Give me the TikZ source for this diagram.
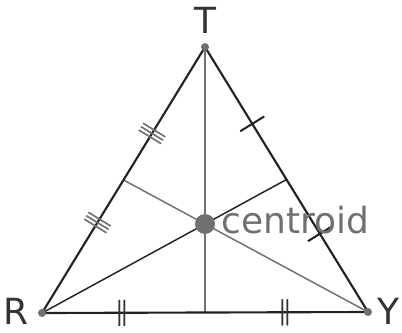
\documentclass[tikz,border=0pt]{standalone}
\usepackage{fontspec}
\setmainfont{DejaVu Sans}
\usetikzlibrary{calc,decorations.markings}

\definecolor{inkdark}{HTML}{222222}
\definecolor{inkgray}{HTML}{707070}
\definecolor{labelgray}{HTML}{333333}

\tikzset{
  side/.style={line width=1.6pt, draw=inkdark},
  median/.style={line width=1.1pt},
  vertexdot/.style={circle, fill=inkgray, inner sep=0pt, minimum size=6pt},
  vlabel/.style={font=\fontsize{27}{30}\selectfont, text=labelgray},
  onetick/.style={postaction={decorate}, decoration={markings,
      mark=at position #1 with {\draw[line width=1.3pt, inkdark] (0,-14) -- (0,14);}}},
  twotick/.style={postaction={decorate}, decoration={markings,
      mark=at position #1 with {\draw[line width=1.1pt, labelgray]
        (-2.5,-13) -- (-2.5,13) (2.5,-13) -- (2.5,13);}}},
  threetick/.style={postaction={decorate}, decoration={markings,
      mark=at position #1 with {\draw[line width=1pt, inkgray]
        (-4,-13) -- (-4,13) (0,-13) -- (0,13) (4,-13) -- (4,13);}}}
}

\begin{document}
\begin{tikzpicture}[x=0.75pt, y=-0.75pt]
  \useasboundingbox (0,0) rectangle (402,332);

  % vertices
  \coordinate (T) at (205,47);
  \coordinate (R) at (42,313);
  \coordinate (Y) at (368,312);
  \coordinate (mRY) at ($(R)!0.5!(Y)$);
  \coordinate (mTY) at ($(T)!0.5!(Y)$);
  \coordinate (mTR) at ($(T)!0.5!(R)$);
  \coordinate (G) at ($(T)!2/3!(mRY)$);

  % medians
  \draw[median, inkgray] (T) -- (mRY);
  \draw[median, inkdark] (R) -- (mTY);
  \draw[median, inkgray] (Y) -- (mTR);

  % sides with tick marks
  \draw[side, threetick=0.325, threetick=0.66] (T) -- (R);
  \draw[side, onetick=0.29, onetick=0.705] (T) -- (Y);
  \draw[side, twotick=0.245, twotick=0.745] (R) -- (Y);

  % points
  \node[vertexdot] (dT) at (T) {};
  \node[vertexdot] (dR) at (R) {};
  \node[vertexdot] (dY) at (Y) {};
  \node[vertexdot, minimum size=15pt] (dG) at (G) {};

  % labels
  \node[vlabel] (lT) at (205,20) {T};
  \node[vlabel] (lR) at (16,311) {R};
  \node[vlabel] (lY) at (388,311) {Y};
  \node[vlabel, text=inkgray, anchor=base west, inner sep=0pt] (lG) at (221,233) {centroid};
\end{tikzpicture}
\end{document}
